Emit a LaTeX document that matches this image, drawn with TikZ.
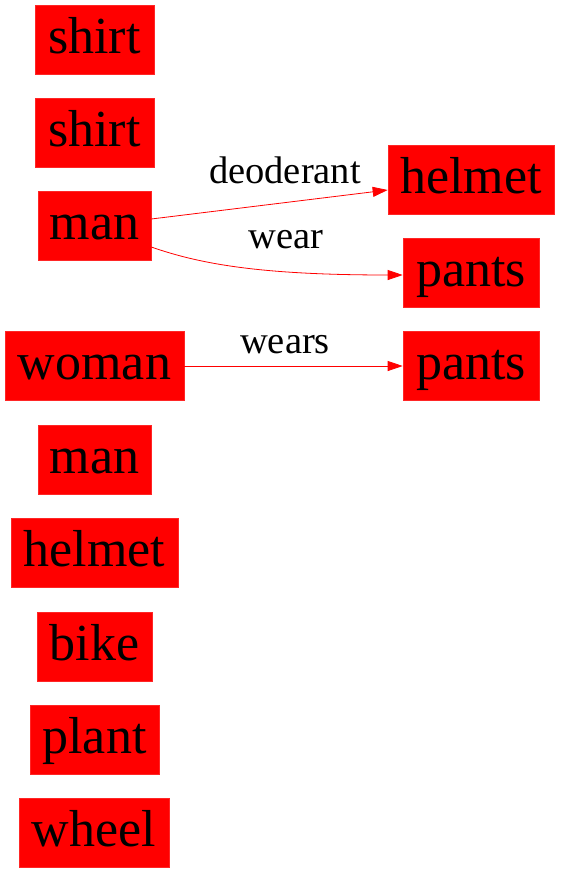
\documentclass[tikz,border=0pt]{standalone}
\usepackage{fontspec}
\setmainfont{Liberation Serif}
\usetikzlibrary{arrows.meta}
\begin{document}
\begin{tikzpicture}[x=1pt,y=-1pt,
  box/.style={draw=red!85, fill=red, line width=0.6pt, inner xsep=0pt, inner ysep=0pt,
    minimum height=69pt, text height=38pt, text depth=11pt,
    font=\fontsize{52}{52}\selectfont, text=black},
  lbl/.style={font=\fontsize{38.5}{38.5}\selectfont, anchor=base, inner sep=0pt},
  edge/.style={draw=red, line width=0.8pt, -{Triangle[length=15pt,width=10pt]}}]
\useasboundingbox (0,0) rectangle (560,873);
\node[box, minimum width=119pt] (shirtA) at (94.5,39.5) {shirt};
\node[box, minimum width=119pt] (shirtB) at (94.5,132.5) {shirt};
\node[box, minimum width=113pt] (manA) at (94.5,226) {man};
\node[box, minimum width=179pt] (woman) at (94.5,366) {woman};
\node[box, minimum width=113pt] (manB) at (94.5,459.5) {man};
\node[box, minimum width=167pt] (helmetA) at (94.5,552.5) {helmet};
\node[box, minimum width=115pt] (bike) at (94.5,646.5) {bike};
\node[box, minimum width=129pt] (plant) at (94.5,739.5) {plant};
\node[box, minimum width=150pt] (wheel) at (94,832.5) {wheel};
\node[box, minimum width=166pt] (helmetB) at (471,179.5) {helmet};
\node[box, minimum width=136pt] (pantsA) at (471,272.5) {pants};
\node[box, minimum width=136pt] (pantsB) at (471,366) {pants};
\draw[edge] (manA.east |- 0,219) -- (helmetB.west |- 0,190);
\draw[edge] (manA.east |- 0,247) .. controls (200,264) and (260,275) .. (pantsA.west |- 0,275);
\draw[edge] (woman.east) -- (pantsB.west);
\node[lbl] (l1) at (285,183) {deoderant};
\node[lbl] (l2) at (286,248) {wear};
\node[lbl] (l3) at (285,353) {wears};
\end{tikzpicture}
\end{document}
